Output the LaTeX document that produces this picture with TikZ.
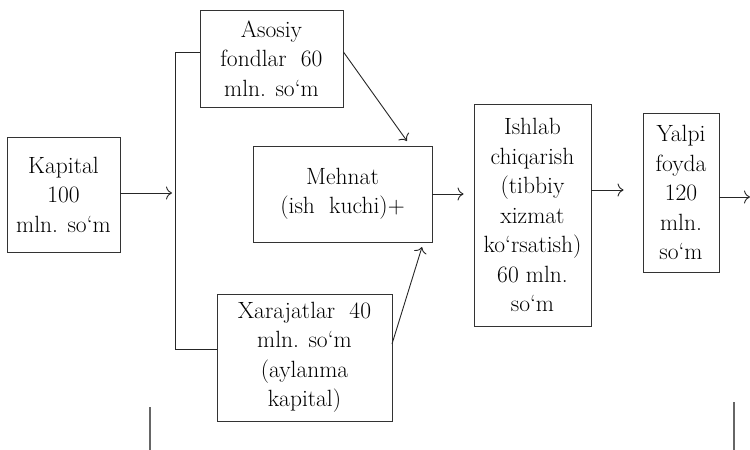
\documentclass[tikz,border=0pt]{standalone}
\usetikzlibrary{arrows.meta}
\begin{document}
\begin{tikzpicture}[x=1pt,y=-1pt,
  box/.style={draw=black!80,line width=0.9pt,align=center,inner sep=0pt,
    font=\fontsize{23.5}{29.5}\selectfont},
  link/.style={draw=black!85,line width=0.9pt},
  flow/.style={link,-{To[length=6pt,width=13pt]}},
  tick/.style={draw=black!60,line width=1.6pt}]
\useasboundingbox (0,0) rectangle (750,450);

% boxes
\node[box,minimum width=113pt,minimum height=115pt] (kap) at (63.5,194.5)
  {Kapital\\100\\mln. so`m};
\node[box,minimum width=143pt,minimum height=97pt] (aso) at (271.5,58.5)
  {Asosiy\\fondlar\ \ 60\\mln. so`m};
\node[box,minimum width=179pt,minimum height=96pt] (meh) at (342.5,194)
  {Mehnat\\(ish\ \ kuchi)+};
\node[box,minimum width=175pt,minimum height=127pt] (xar) at (304.5,357.5)
  {Xarajatlar\ \ 40\\mln. so`m\\(aylanma\\kapital)};
\node[box,minimum width=117pt,minimum height=222pt] (ish) at (532.5,215)
  {Ishlab\\chiqarish\\(tibbiy\\xizmat\\ko`rsatish)\\60 mln.\\so`m};
\node[box,minimum width=76pt,minimum height=159pt] (yal) at (681,192.5)
  {Yalpi\\foyda\\120\\mln.\\so`m};

% bus that splits the capital
\coordinate (busT) at (175,52);
\coordinate (busB) at (175,349);
\draw[link] (busT -| aso.west) -- (busT) -- (busB) -- (busB -| xar.west);
\draw[flow,shorten >=3pt] (kap.east |- 0,193) -- (busT |- 0,193);

% inputs to labour
\coordinate (m1) at (407,141);
\coordinate (m2) at (422,247);
\coordinate (x1) at (392,344);
\draw[flow] (busT -| aso.east) -- (m1);
\draw[flow] (x1) -- (m2);

% main flow
\draw[flow,shorten >=10pt] (meh.east) -- (meh.east -| ish.west);
\coordinate (i1) at (591,190);
\draw[flow,shorten >=19pt] (i1) -- (i1 -| yal.west);
\coordinate (y1) at (719,197);
\coordinate (out) at (750,197);
\draw[flow] (y1) -- (out);

% stray margin ticks
\draw[tick] (150,407) -- (150,450);
\draw[tick] (734,402) -- (734,450);
\end{tikzpicture}
\end{document}
